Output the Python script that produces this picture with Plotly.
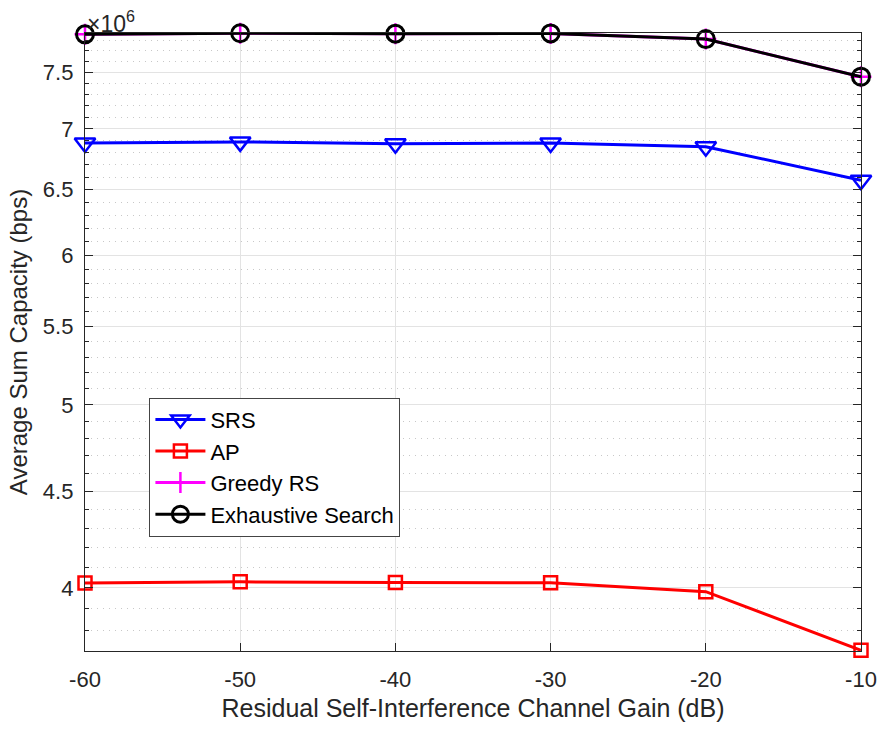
import plotly.graph_objects as go
import numpy as np

x_db = [-60, -50, -40, -30, -20, -10]
srs = [6.88e6, 6.89e6, 6.875e6, 6.88e6, 6.85e6, 6.575e6]
ap = [4.024e6, 4.03e6, 4.026e6, 4.025e6, 3.982e6, 3.707e6]
greedy = [7.855e6, 7.866e6, 7.862e6, 7.864e6, 7.81e6, 7.46e6]
exhaustive = [7.855e6, 7.866e6, 7.862e6, 7.864e6, 7.81e6, 7.46e6]

y_major = [4.0, 4.5, 5.0, 5.5, 6.0, 6.5, 7.0, 7.5]
y_minor = [3.8, 3.9, 4.1, 4.2, 4.3, 4.4, 4.6, 4.7, 4.8, 4.9, 5.1, 5.2, 5.3, 5.4,
           5.6, 5.7, 5.8, 5.9, 6.1, 6.2, 6.3, 6.4, 6.6, 6.7, 6.8, 6.9, 7.1, 7.2,
           7.3, 7.4, 7.6, 7.7, 7.8]
y_range = [3.704e6, 7.868e6]
x_ticks = [-60, -50, -40, -30, -20, -10]

FONT = "Liberation Sans, Arial, sans-serif"
TXT = "#262626"

fig = go.Figure()
fig.add_trace(go.Scatter(x=x_db, y=srs, name="SRS", mode="lines+markers",
                         line=dict(color="#0000ff", width=3),
                         marker=dict(symbol="triangle-down-open", size=18,
                                     line=dict(width=2.5, color="#0000ff")),
                         cliponaxis=False))
fig.add_trace(go.Scatter(x=x_db, y=ap, name="AP", mode="lines+markers",
                         line=dict(color="#ff0000", width=3),
                         marker=dict(symbol="square-open", size=13,
                                     line=dict(width=2.5, color="#ff0000")),
                         cliponaxis=False))
fig.add_trace(go.Scatter(x=x_db, y=greedy, name="Greedy RS", mode="lines+markers",
                         line=dict(color="#ff00ff", width=3),
                         marker=dict(symbol="cross-thin-open", size=15,
                                     line=dict(width=2.5, color="#ff00ff")),
                         cliponaxis=False))
fig.add_trace(go.Scatter(x=x_db, y=exhaustive, name="Exhaustive Search", mode="lines+markers",
                         line=dict(color="#000000", width=3),
                         marker=dict(symbol="circle-open", size=17,
                                     line=dict(width=3, color="#000000")),
                         cliponaxis=False))

fig.update_layout(
    width=889, height=729,
    margin=dict(l=85, r=20, t=33, b=78),
    paper_bgcolor="white", plot_bgcolor="white",
    font=dict(family=FONT, color=TXT, size=22),
    legend=dict(x=0.083, y=0.41, xanchor="left", yanchor="top",
                bgcolor="white", bordercolor="#444444", borderwidth=1,
                font=dict(size=22, color="#000000"), tracegroupgap=0,
                itemwidth=50),
    showlegend=True,
)
fig.update_xaxes(range=[-60, -10], tickvals=x_ticks,
                 ticktext=[str(v) for v in x_ticks],
                 showgrid=True, gridcolor="#e3e3e3", gridwidth=1,
                 ticks="inside", ticklen=8, tickcolor=TXT,
                 showline=True, linecolor=TXT, linewidth=1.3, mirror="ticks",
                 zeroline=False, ticklabelstandoff=8,
                 title=dict(text="Residual Self-Interference Channel Gain (dB)",
                            font=dict(size=25, color=TXT), standoff=8),
                 tickfont=dict(size=22, color=TXT))
fig.update_yaxes(type="log", range=[np.log10(y_range[0]), np.log10(y_range[1])],
                 tickvals=[v * 1e6 for v in y_major],
                 ticktext=[f"{v:g}" for v in y_major],
                 showgrid=True, gridcolor="#e3e3e3", gridwidth=1,
                 ticks="inside", ticklen=8, tickcolor=TXT,
                 showline=True, linecolor=TXT, linewidth=1.3, mirror="ticks",
                 zeroline=False, ticklabelstandoff=6,
                 minor=dict(tickvals=[v * 1e6 for v in y_minor], ticks="inside",
                            ticklen=4, tickcolor=TXT, showgrid=True,
                            gridcolor="#c8c8c8", griddash="1px,5px", gridwidth=1),
                 title=dict(text="Average Sum Capacity (bps)",
                            font=dict(size=24, color=TXT), standoff=8),
                 tickfont=dict(size=22, color=TXT))
fig.add_annotation(text="×10<sup>6</sup>", xref="paper", yref="paper",
                   x=0.0, y=1.0, xanchor="left", yanchor="bottom",
                   showarrow=False, font=dict(size=23, color=TXT), yshift=-6)

fig.write_html("out.html")
